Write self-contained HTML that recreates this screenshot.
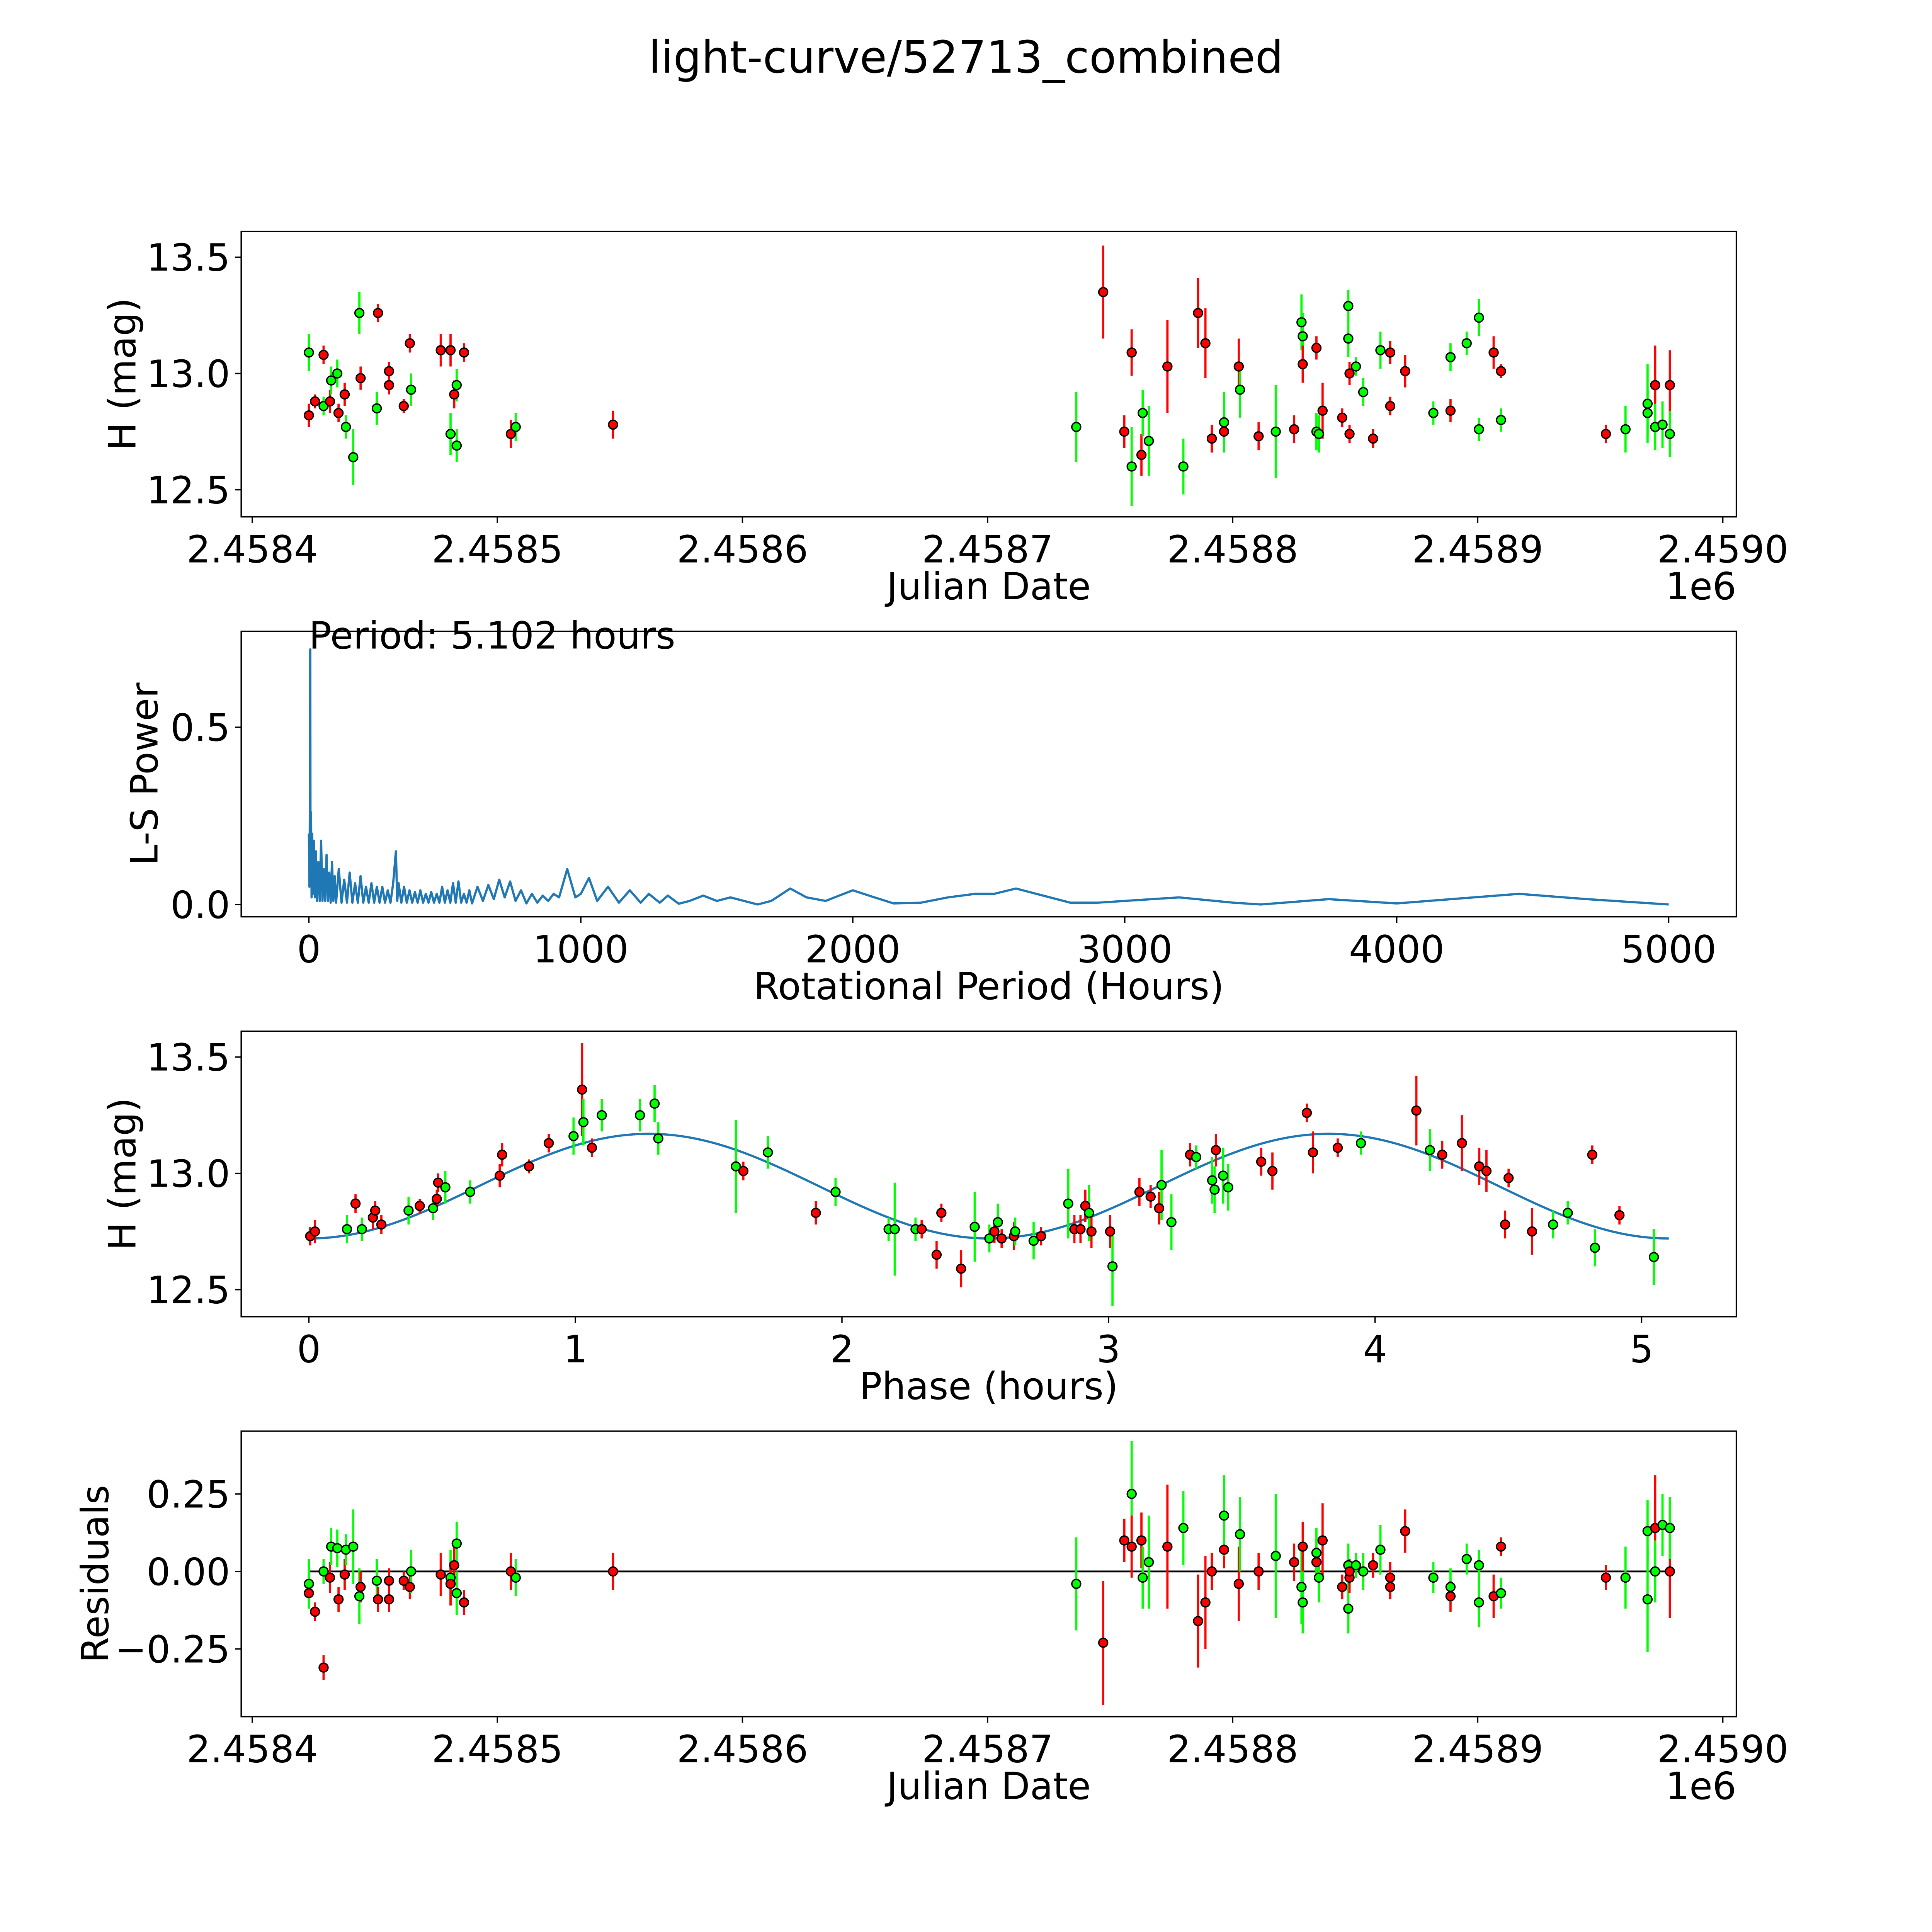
<!DOCTYPE html>
<html><head><meta charset="utf-8"><style>
html,body{margin:0;padding:0;background:#fff;overflow:hidden;width:100vw;height:100vh;}
svg{display:block;width:100vw;height:100vh;}
text{font-family:"DejaVu Sans","Liberation Sans",sans-serif;fill:#000;}
</style></head><body>
<svg id="fig" xmlns="http://www.w3.org/2000/svg" viewBox="0 0 1570 1570" preserveAspectRatio="none">
<rect x="0" y="0" width="1570" height="1570" fill="#fff"/>
<text x="785" y="59" font-size="36" text-anchor="middle">light-curve/52713_combined</text>
<g id="p1"></g>
<g id="p2"></g>
<g id="p3"></g>
<g id="p4"></g>
</svg>
<script>
// ---- data: observations (days since JD 2458400) ----
const obsDays = [23.1,23.1,25.6,29.1,29.1,31.7,32.2,34.7,35.2,37.7,38.2,41.2,43.7,44.2,50.8,51.3,55.8,55.8,61.8,64.3,64.8,76.9,80.9,80.9,82.4,83.4,83.4,86.4,105.5,107.5,147.2,
336.2,347.2,355.8,358.8,358.8,362.8,363.3,365.8,373.4,379.9,385.9,388.9,391.5,396.5,396.5,402.5,403.0,410.6,417.6,425.1,428.1,428.6,428.6,434.2,434.2,435.2,436.7,444.7,447.2,447.2,447.7,447.7,450.3,453.3,457.3,460.3,464.3,464.3,470.4,481.9,488.9,488.9,495.5,500.5,500.5,506.5,509.5,509.5,552.3,560.3,569.3,569.3,572.4,572.4,575.4,578.4,578.4];
const obsMag = [12.82,13.09,12.88,13.08,12.86,12.88,12.97,13.00,12.83,12.91,12.77,12.64,13.26,12.98,12.85,13.26,13.01,12.95,12.86,13.13,12.93,13.10,12.74,13.10,12.91,12.95,12.69,13.09,12.74,12.77,12.78,
12.77,13.35,12.75,12.60,13.09,12.65,12.83,12.71,13.03,12.60,13.26,13.13,12.72,12.75,12.79,13.03,12.93,12.73,12.75,12.76,13.22,13.16,13.04,13.11,12.75,12.74,12.84,12.81,13.29,13.15,13.00,12.74,13.03,12.92,12.72,13.10,13.09,12.86,13.01,12.83,13.07,12.84,13.13,13.24,12.76,13.09,13.01,12.80,12.74,12.76,12.87,12.83,12.95,12.77,12.78,12.95,12.74];
const obsResid = [-0.07,-0.04,-0.13,-0.31,0.00,-0.02,0.08,0.075,-0.09,-0.01,0.07,0.08,-0.08,-0.05,-0.03,-0.09,-0.03,-0.09,-0.03,-0.05,0.00,-0.01,-0.02,-0.04,0.02,0.09,-0.07,-0.10,0.00,-0.02,0.00,
-0.04,-0.23,0.10,0.25,0.08,0.10,-0.02,0.03,0.08,0.14,-0.16,-0.10,0.00,0.07,0.18,-0.04,0.12,0.00,0.05,0.03,-0.05,-0.10,0.08,0.03,0.06,-0.02,0.10,-0.05,0.02,-0.12,-0.02,0.00,0.02,0.00,0.02,0.07,-0.02,-0.05,0.13,-0.02,-0.05,-0.08,0.04,-0.10,0.02,-0.08,0.08,-0.07,-0.02,-0.02,-0.09,0.13,0.14,0.00,0.15,0.00,0.14];
const obsErr = [0.05,0.08,0.03,0.04,0.04,0.05,0.06,0.06,0.04,0.05,0.05,0.12,0.09,0.05,0.07,0.04,0.04,0.04,0.03,0.04,0.07,0.07,0.09,0.07,0.06,0.07,0.07,0.04,0.06,0.06,0.06,
0.15,0.20,0.07,0.17,0.10,0.09,0.10,0.15,0.20,0.12,0.15,0.15,0.06,0.06,0.13,0.12,0.12,0.06,0.20,0.06,0.12,0.10,0.08,0.05,0.08,0.08,0.12,0.04,0.07,0.08,0.05,0.04,0.04,0.06,0.04,0.08,0.05,0.04,0.07,0.05,0.06,0.05,0.05,0.08,0.05,0.07,0.03,0.05,0.04,0.10,0.17,0.10,0.17,0.10,0.10,0.15,0.10];
const obsColor = "rgrrgrggrrgggrgrrrrrgrgrrggrrgr"+"grrgrrggrgrrrrgrgrgrggrrggrrggrrggrgrrrggrgggrrgrgggrggrgr";

// ---- data: phase-folded ----
const phaseHours = [0.005,0.023,0.143,0.175,0.199,0.24,0.249,0.272,0.374,0.416,0.466,0.48,0.485,0.512,0.605,0.716,0.725,0.826,0.9,0.993,1.025,1.03,1.062,1.099,1.242,1.297,1.311,1.602,1.63,1.722,1.902,1.976,2.175,2.198,2.276,2.299,2.355,2.373,2.447,2.498,2.553,2.572,2.585,2.599,2.645,2.65,2.719,2.747,2.849,2.872,2.895,2.913,2.927,2.936,3.006,3.015,3.116,3.158,3.19,3.199,3.236,3.306,3.329,3.389,3.398,3.403,3.43,3.449,3.573,3.615,3.744,3.767,3.86,3.947,4.155,4.206,4.252,4.326,4.391,4.418,4.488,4.501,4.589,4.668,4.723,4.815,4.825,4.917,5.046];
const phaseMag = [12.73,12.75,12.76,12.87,12.76,12.81,12.84,12.78,12.84,12.86,12.85,12.89,12.96,12.94,12.92,12.99,13.08,13.03,13.13,13.16,13.36,13.22,13.11,13.25,13.25,13.30,13.15,13.03,13.01,13.09,12.83,12.92,12.76,12.76,12.76,12.76,12.65,12.83,12.59,12.77,12.72,12.75,12.79,12.72,12.73,12.75,12.71,12.73,12.87,12.76,12.76,12.86,12.83,12.75,12.75,12.60,12.92,12.90,12.85,12.95,12.79,13.08,13.07,12.97,12.93,13.10,12.99,12.94,13.05,13.01,13.26,13.09,13.11,13.13,13.27,13.10,13.08,13.13,13.03,13.01,12.78,12.98,12.75,12.78,12.83,13.08,12.68,12.82,12.64];
const phaseErr = [0.04,0.05,0.06,0.04,0.05,0.05,0.04,0.04,0.06,0.03,0.05,0.04,0.04,0.07,0.05,0.05,0.05,0.03,0.04,0.08,0.2,0.1,0.04,0.07,0.07,0.08,0.07,0.2,0.04,0.07,0.05,0.06,0.05,0.2,0.05,0.04,0.06,0.04,0.08,0.15,0.06,0.05,0.08,0.04,0.06,0.06,0.08,0.04,0.15,0.06,0.06,0.07,0.12,0.07,0.07,0.17,0.06,0.05,0.07,0.15,0.12,0.05,0.05,0.1,0.1,0.07,0.12,0.1,0.06,0.08,0.04,0.09,0.04,0.05,0.15,0.09,0.06,0.12,0.08,0.09,0.06,0.04,0.1,0.06,0.05,0.04,0.08,0.04,0.12];
const phaseColor = "rrgrgrrrgrgrrggrrrrgrgrgggggrgrggggrrrrggrgrrggrgrrrgrrgrrrggrgggrggrrrrrgrgrrrrrrrggrgrg";

// ---- data: fit model ----
const fitMean = [12.945];
const fitAmp = [0.225];
const fitHalfPeriod = [2.551];
const fitRange = [0, 5.102];

// ---- data: periodogram ----
const lsPeriod = [0,2,4,5.1,6,8,10,12,15,18,22,26,30,35,40,45,50,55,60,65,70,75,80,85,90,95,100,110,120,130,140,150,160,170,180,190,200,210,220,230,240,250,260,270,280,290,300,310,320,325,330,340,350,360,370,380,390,400,410,420,430,440,450,460,470,480,490,500,510,520,530,540,550,560,570,580,590,600,620,640,660,680,700,720,740,760,780,800,820,840,860,880,900,920,950,980,1000,1030,1060,1100,1140,1180,1220,1250,1290,1320,1360,1400,1450,1500,1550,1600,1650,1700,1770,1830,1900,2000,2080,2150,2250,2350,2450,2520,2600,2700,2800,2900,3000,3200,3400,3500,3750,4000,4200,4450,4700,5000];
const lsPower = [0.2,0.05,0.3,0.72,0.1,0.26,0.02,0.2,0.03,0.18,0.02,0.15,0.01,0.12,0.01,0.18,0.01,0.1,0.01,0.14,0.01,0.09,0.005,0.12,0.01,0.08,0.005,0.1,0.005,0.07,0.005,0.09,0.005,0.06,0.005,0.08,0.005,0.05,0.005,0.06,0.005,0.05,0.005,0.05,0.005,0.04,0.005,0.06,0.15,0.01,0.06,0.005,0.05,0.005,0.04,0.005,0.035,0.005,0.04,0.005,0.03,0.005,0.035,0.005,0.03,0.005,0.05,0.005,0.04,0.005,0.06,0.005,0.065,0.005,0.03,0.005,0.04,0.003,0.05,0.01,0.055,0.015,0.07,0.02,0.065,0.01,0.04,0.003,0.03,0.005,0.025,0.01,0.03,0.02,0.1,0.02,0.03,0.075,0.01,0.05,0.005,0.04,0.005,0.03,0.005,0.025,0.002,0.01,0.025,0.01,0.02,0.01,0.0,0.01,0.045,0.02,0.01,0.04,0.02,0.003,0.005,0.02,0.03,0.03,0.045,0.025,0.005,0.005,0.01,0.02,0.005,0.0,0.015,0.003,0.015,0.03,0.015,0.0];

// ---- tick labels ----
const jdTicks = [0,100,200,300,400,500,600];
const jdTickLabels = ["2.4584","2.4585","2.4586","2.4587","2.4588","2.4589","2.4590"];
const magTicks = [12.5,13.0,13.5];
const magTickLabels = ["12.5","13.0","13.5"];
const lsXTicks = [0,1000,2000,3000,4000,5000];
const lsXTickLabels = ["0","1000","2000","3000","4000","5000"];
const lsYTicks = [0,0.5];
const lsYTickLabels = ["0.0","0.5"];
const phTicks = [0,1,2,3,4,5];
const phTickLabels = ["0","1","2","3","4","5"];
const resTicks = [0.25,0,-0.25];
const resTickLabels = ["0.25","0.00","\u22120.25"];

const NS = "http://www.w3.org/2000/svg";
function mk(tag, attrs, parent){const e=document.createElementNS(NS,tag);for(const k in attrs)e.setAttribute(k,attrs[k]);parent.appendChild(e);return e;}
function lin(d0,d1,r0,r1){return v=>r0+(v-d0)/(d1-d0)*(r1-r0);}
const L=196,R=1411,FS=30.5;

function frame(g,top,bot,xs,ys,xt,xl,yt,yl,xlab,ylab,ylabX,tickY){
  const b=mk('rect',{x:L,y:top,width:R-L,height:bot-top,fill:'none',stroke:'#000','stroke-width':1.1},g);
  
  
  xt.forEach((v,i)=>{const x=xs(v);
    mk('line',{x1:x,y1:bot,x2:x,y2:bot+5,stroke:'#000','stroke-width':1.1},g);
    const t=mk('text',{x:x,y:tickY,'font-size':FS,'text-anchor':'middle'},g);t.textContent=xl[i];
    
    });
  yt.forEach((v,i)=>{const y=ys(v);
    mk('line',{x1:L-5,y1:y,x2:L,y2:y,stroke:'#000','stroke-width':1.1},g);
    const t=mk('text',{x:L-9,y:y+11,'font-size':FS,'text-anchor':'end'},g);t.textContent=yl[i];
    
    });
  const xa=mk('text',{x:(L+R)/2,y:tickY+30,'font-size':FS,'text-anchor':'middle'},g);xa.textContent=xlab;
  
  
  const cy=(top+bot)/2;
  const ya=mk('text',{x:ylabX,y:cy,'font-size':FS,'text-anchor':'middle',transform:`rotate(-90 ${ylabX} ${cy})`},g);ya.textContent=ylab;
  
  
}
function points(g,xv,yv,ev,cv,xs,ys){
  for(let i=0;i<xv.length;i++){
    const c=cv[i]==='g'?'#00ff00':'#ff0000';const x=xs(xv[i]);
    const eb=mk('line',{x1:x,y1:ys(yv[i]-ev[i]),x2:x,y2:ys(yv[i]+ev[i]),stroke:c,'stroke-width':1.8},g);
    
    
  }
  for(let i=0;i<xv.length;i++){
    const c=cv[i]==='g'?'#00ff00':'#ff0000';
    const p=mk('circle',{cx:xs(xv[i]),cy:ys(yv[i]),r:3.6,fill:c,stroke:'#000','stroke-width':1.1},g);
    
    
  }
}
// Panel 1
(function(){const g=document.getElementById('p1');
  const xs=lin(0,600,205,1400), ys=lin(12.5,13.5,398,209);
  points(g,obsDays,obsMag,obsErr,obsColor,xs,ys);
  frame(g,188,420,xs,ys,jdTicks,jdTickLabels,magTicks,magTickLabels,'Julian Date','H (mag)',110,457);
  const e=mk('text',{x:R,y:487,'font-size':FS,'text-anchor':'end'},g);e.textContent='1e6';
  
  
})();
// Panel 2
(function(){const g=document.getElementById('p2');
  const xs=lin(0,5000,251,1356), ys=lin(0,0.5,735,591);
  const pts=lsPeriod.map((p,i)=>xs(p).toFixed(2)+','+ys(lsPower[i]).toFixed(2)).join(' ');
  const pl=mk('polyline',{points:pts,fill:'none',stroke:'#1f77b4','stroke-width':1.8,'stroke-linejoin':'round'},g);
  
  
  frame(g,513,745,xs,ys,lsXTicks,lsXTickLabels,lsYTicks,lsYTickLabels,'Rotational Period (Hours)','L-S Power',128,782);
  const a=mk('text',{x:251,y:527,'font-size':FS},g);a.textContent='Period: 5.102 hours';
  
  
})();
// Panel 3
(function(){const g=document.getElementById('p3');
  const xs=lin(0,5,251,1334), ys=lin(12.5,13.5,1048,859);
  const n=200, pts=[];
  for(let k=0;k<=n;k++){const p=fitRange[0]+(fitRange[1]-fitRange[0])*k/n;
    const h=fitMean[0]-fitAmp[0]*Math.cos(2*Math.PI*p/fitHalfPeriod[0]);
    pts.push(xs(p).toFixed(2)+','+ys(h).toFixed(2));}
  const pl=mk('polyline',{points:pts.join(' '),fill:'none',stroke:'#1f77b4','stroke-width':1.8},g);
  
  
  points(g,phaseHours,phaseMag,phaseErr,phaseColor,xs,ys);
  frame(g,838,1070,xs,ys,phTicks,phTickLabels,magTicks,magTickLabels,'Phase (hours)','H (mag)',110,1107);
})();
// Panel 4
(function(){const g=document.getElementById('p4');
  const xs=lin(0,600,205,1400), ys=lin(0,0.25,1277,1214);
  const mn=Math.min(...obsDays), mx=Math.max(...obsDays);
  const zl=mk('line',{x1:xs(mn),y1:ys(0),x2:xs(mx),y2:ys(0),stroke:'#000','stroke-width':1.5},g);
  
  
  points(g,obsDays,obsResid,obsErr,obsColor,xs,ys);
  frame(g,1163,1395,xs,ys,jdTicks,jdTickLabels,resTicks,resTickLabels,'Julian Date','Residuals',88,1432);
  const e=mk('text',{x:R,y:1462,'font-size':FS,'text-anchor':'end'},g);e.textContent='1e6';
  
  
})();
</script>
</body></html>
